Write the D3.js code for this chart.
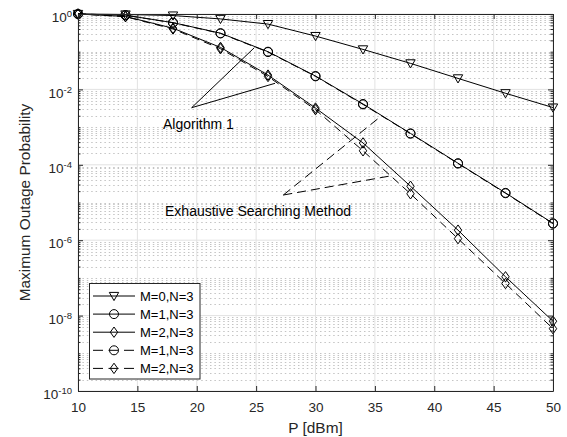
<!DOCTYPE html>
<html><head><meta charset="utf-8">
<script src="https://cdn.jsdelivr.net/npm/d3@7"></script>
<style>
body{margin:0;background:#fff}
text{font-family:"Liberation Sans",Arial,Helvetica,sans-serif}
</style>
</head><body>
<svg id="c" width="567" height="437"></svg>
<script>
// ---------------- data ----------------
const P = [10,14,18,22,26,30,34,38,42,46,50];
const algM0 = [1, 0.97, 0.91, 0.74, 0.54, 0.26, 0.115, 0.049, 0.0196, 0.0079, 0.0033];
const algM1 = [1, 0.93, 0.59, 0.31, 0.10, 0.0226, 0.0041, 6.8e-4, 1.1e-4, 1.8e-5, 2.8e-6];
const algM2 = [1, 0.86, 0.42, 0.13, 0.024, 3.2e-3, 3.8e-4, 2.7e-5, 1.85e-6, 1.07e-7, 7.1e-9];
const exhM1 = [1, 0.925, 0.585, 0.305, 0.098, 0.0222, 0.0040, 6.7e-4, 1.08e-4, 1.76e-5, 2.75e-6];
const exhM2 = [1, 0.85, 0.40, 0.12, 0.022, 2.9e-3, 2.35e-4, 1.7e-5, 1.1e-6, 7.1e-8, 4.5e-9];
const xTicks = [10,15,20,25,30,35,40,45,50];
const yTickExp = [0,-2,-4,-6,-8,-10];
const legendLabels = ["M=0,N=3","M=1,N=3","M=2,N=3","M=1,N=3","M=2,N=3"];
const xLabel = "P [dBm]";
const yLabel = "Maximum Outage Probability";
const annAlgText = "Algorithm 1";
const annExhText = "Exhaustive Searching Method";
// annotation anchors in data coordinates [P, value]
const annAlgApex = [19.57, 3.27e-3];
const annAlgEnds = [[24.85, 0.128],[26.59, 0.0145]];
const annExhApex = [27.29, 1.58e-5];
const annExhEnds = [[35.43, 1.85e-3],[36.27, 5.04e-5]];
const annAlgPos = [17.16, 8.9e-4];
const annExhPos = [17.33, 4.4e-6];

// ---------------- setup ----------------
const svg = d3.select("#c");
const L = 78, R = 553, T = 14, B = 391;
const x = d3.scaleLinear().domain([10,50]).range([L,R]);
const y = d3.scaleLog().domain([1e-10,1]).range([B,T]);
const axisCol = "#262626";

const yMajor = yTickExp.map(e => Math.pow(10,e));
const yMinor = [];
for (let e = -10; e < 0; e++) {
  for (let k = 1; k <= 9; k++) {
    const v = k * Math.pow(10, e);
    if (k === 1 && yTickExp.includes(e)) continue;
    yMinor.push(v);
  }
}

// ---------------- grid ----------------
const grid = svg.append("g");
grid.selectAll("line.ymin").data(yMinor).join("line")
  .attr("x1", L).attr("x2", R)
  .attr("y1", d => Math.round(y(d)) + 0.5).attr("y2", d => Math.round(y(d)) + 0.5)
  .attr("stroke", "#c4c4c4").attr("stroke-width", 1)
  .attr("stroke-dasharray", "1.5,2.9");
grid.selectAll("line.xmaj").data(xTicks).join("line")
  .attr("x1", d => x(d)).attr("x2", d => x(d))
  .attr("y1", T).attr("y2", B)
  .attr("stroke", "#e2e2e2").attr("stroke-width", 1);
grid.selectAll("line.ymaj").data(yMajor).join("line")
  .attr("x1", L).attr("x2", R)
  .attr("y1", d => y(d)).attr("y2", d => y(d))
  .attr("stroke", "#e2e2e2").attr("stroke-width", 1);

// ---------------- markers ----------------
const shapes = {
  tri: "M-4.7,-3.6L4.7,-3.6L0,4.6Z",
  circ: "M4.5,0A4.5,4.5 0 1,1 -4.5,0A4.5,4.5 0 1,1 4.5,0Z",
  dia: "M0,-5.2L3.7,0L0,5.2L-3.7,0Z"
};
const series = [
  {vals: algM0, shape: "tri", dash: null},
  {vals: algM1, shape: "circ", dash: null},
  {vals: algM2, shape: "dia", dash: null},
  {vals: exhM1, shape: "circ", dash: "8,5"},
  {vals: exhM2, shape: "dia", dash: "8,5"}
];
const line = d3.line().x(d => x(d[0])).y(d => y(d[1]));
const plot = svg.append("g");
series.forEach(s => {
  const pts = P.map((p,i) => [p, s.vals[i]]);
  plot.append("path").datum(pts).attr("d", line)
    .attr("fill","none").attr("stroke","#000").attr("stroke-width",1)
    .attr("stroke-dasharray", s.dash);
  plot.selectAll(null).data(pts).join("path")
    .attr("transform", d => `translate(${x(d[0])},${y(d[1])})`)
    .attr("d", shapes[s.shape])
    .attr("fill","none").attr("stroke","#000").attr("stroke-width",1);
});

// ---------------- axes ----------------
function styleAxis(g){
  g.selectAll(".domain").attr("stroke", axisCol);
  g.selectAll(".tick line").attr("stroke", axisCol);
  g.selectAll(".tick text").attr("fill", axisCol)
    .style("font-family",'"Liberation Sans",Arial,sans-serif');
}
const gx = svg.append("g").attr("transform",`translate(0,${B})`)
  .call(d3.axisBottom(x).tickValues(xTicks).tickSize(-5).tickSizeOuter(0).tickPadding(11).tickFormat(d3.format("d")))
  .attr("font-size", 13.5);
styleAxis(gx);
const gxt = svg.append("g").attr("transform",`translate(0,${T})`)
  .call(d3.axisTop(x).tickValues(xTicks).tickSize(-5).tickSizeOuter(0).tickFormat(""));
styleAxis(gxt);

const gy = svg.append("g").attr("transform",`translate(${L},0)`)
  .call(d3.axisLeft(y).tickValues(yMajor).tickSize(-5).tickSizeOuter(0).tickPadding(6).tickFormat(""))
  .attr("font-size", 13.5);
styleAxis(gy);
gy.selectAll(".tick text").each(function(d){
  const t = d3.select(this);
  const e = Math.round(Math.log10(d));
  t.attr("dy", null).attr("y", 7.6).attr("text-anchor","end");
  t.append("tspan").text("10");
  t.append("tspan").attr("dy", -5).attr("font-size", 9.5).text(String(e));
});
const gyMin = svg.append("g").attr("transform",`translate(${L},0)`)
  .call(d3.axisLeft(y).tickValues(yMinor).tickSize(-2.5).tickSizeOuter(0).tickFormat(""));
gyMin.select(".domain").remove();
styleAxis(gyMin);

const gyr = svg.append("g").attr("transform",`translate(${R},0)`)
  .call(d3.axisRight(y).tickValues(yMajor).tickSize(-5).tickSizeOuter(0).tickFormat(""));
styleAxis(gyr);
const gyrMin = svg.append("g").attr("transform",`translate(${R},0)`)
  .call(d3.axisRight(y).tickValues(yMinor).tickSize(-2.5).tickSizeOuter(0).tickFormat(""));
gyrMin.select(".domain").remove();
styleAxis(gyrMin);

// axis labels
svg.append("text").attr("x", (L+R)/2).attr("y", 433)
  .attr("text-anchor","middle").attr("font-size",15.4).attr("fill",axisCol).text(xLabel);
svg.append("text").attr("transform",`translate(30,${(T+B)/2}) rotate(-90)`)
  .attr("text-anchor","middle").attr("font-size",15.4).attr("fill",axisCol).text(yLabel);

// ---------------- annotations ----------------
const ann = svg.append("g");
annAlgEnds.forEach(e => {
  ann.append("line").attr("x1", x(annAlgApex[0])).attr("y1", y(annAlgApex[1]))
    .attr("x2", x(e[0])).attr("y2", y(e[1]))
    .attr("stroke","#000").attr("stroke-width",1);
});
annExhEnds.forEach(e => {
  ann.append("line").attr("x1", x(annExhApex[0])).attr("y1", y(annExhApex[1]))
    .attr("x2", x(e[0])).attr("y2", y(e[1]))
    .attr("stroke","#000").attr("stroke-width",1).attr("stroke-dasharray","9,5");
});
ann.append("text").attr("x", x(annAlgPos[0])).attr("y", y(annAlgPos[1]))
  .attr("font-size",14).attr("fill","#000").text(annAlgText);
ann.append("text").attr("x", x(annExhPos[0])).attr("y", y(annExhPos[1]))
  .attr("font-size",14).attr("fill","#000").text(annExhText);

// ---------------- legend ----------------
const lg = svg.append("g");
lg.append("rect").attr("x",89.5).attr("y",283.5).attr("width",110.5).attr("height",95.5)
  .attr("fill","#fff").attr("stroke",axisCol).attr("stroke-width",1);
series.forEach((s,i) => {
  const yy = 296 + i*18.1;
  lg.append("line").attr("x1",93).attr("x2",135).attr("y1",yy).attr("y2",yy)
    .attr("stroke","#000").attr("stroke-width",1)
    .attr("stroke-dasharray", s.dash ? "10,5.5" : null);
  lg.append("path").attr("transform",`translate(114,${yy})`).attr("d", shapes[s.shape])
    .attr("fill","none").attr("stroke","#000").attr("stroke-width",1);
  lg.append("text").attr("x",140).attr("y",yy).attr("dy","0.36em")
    .attr("font-size",13).attr("fill","#000").text(legendLabels[i]);
});
</script>
</body></html>
